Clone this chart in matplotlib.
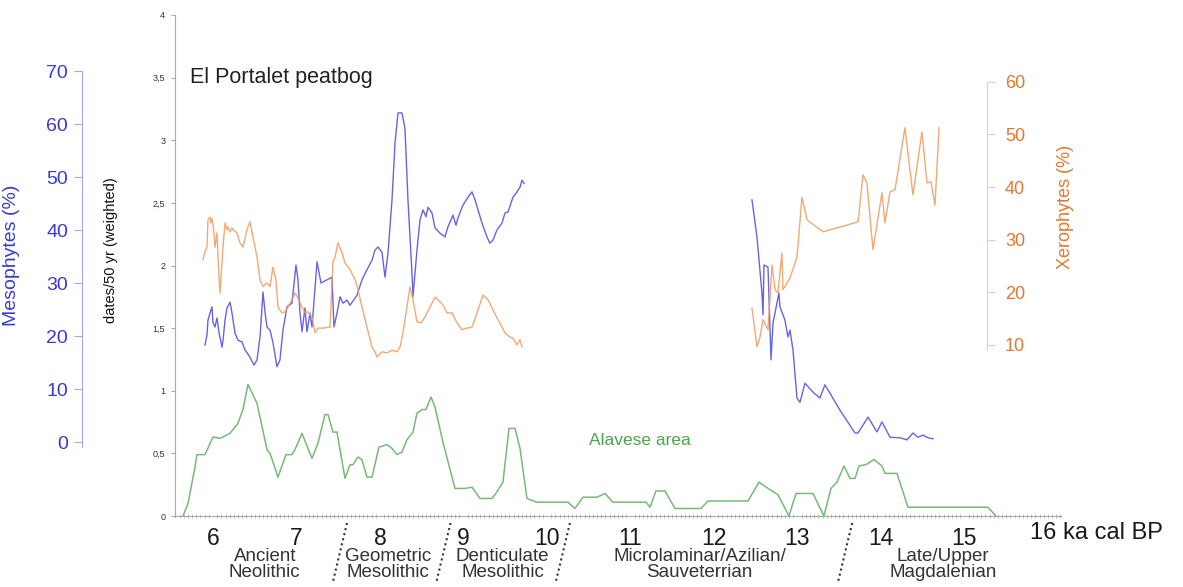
import matplotlib
matplotlib.use("Agg")
import matplotlib.pyplot as plt
from matplotlib.ticker import FixedLocator, MultipleLocator

plt.rcParams['font.family'] = ['Liberation Sans', 'DejaVu Sans']

# Alavese area dates/50 yr (weighted), x in ka cal BP
alav_ka = [5.641, 5.701, 5.784, 5.808, 5.904, 6.000, 6.084, 6.204, 6.299, 6.359,
           6.419, 6.527, 6.647, 6.683, 6.778, 6.874, 6.946, 6.982, 7.066, 7.186,
           7.257, 7.341, 7.377, 7.437, 7.485, 7.581, 7.641, 7.677, 7.737, 7.784,
           7.844, 7.904, 7.988, 8.084, 8.144, 8.204, 8.263, 8.323, 8.395, 8.443,
           8.503, 8.551, 8.611, 8.659, 8.754, 8.898, 9.018, 9.102, 9.198, 9.341,
           9.377, 9.473, 9.545, 9.617, 9.677, 9.760, 9.880, 10.251, 10.335, 10.431,
           10.599, 10.695, 10.790, 11.186, 11.234, 11.305, 11.413, 11.533, 11.844, 11.928,
           12.407, 12.539, 12.671, 12.766, 12.898, 12.982, 13.186, 13.317, 13.401, 13.473,
           13.557, 13.629, 13.689, 13.737, 13.820, 13.916, 14.012, 14.048, 14.192, 14.323,
           15.281, 15.377]
alav = [0.0, 0.10, 0.39, 0.49, 0.49, 0.63, 0.62, 0.66, 0.74, 0.85,
        1.05, 0.90, 0.53, 0.50, 0.31, 0.49, 0.49, 0.53, 0.66, 0.46,
        0.58, 0.81, 0.81, 0.67, 0.67, 0.30, 0.41, 0.41, 0.47, 0.45,
        0.31, 0.31, 0.55, 0.57, 0.54, 0.49, 0.51, 0.61, 0.67, 0.82,
        0.85, 0.85, 0.95, 0.87, 0.59, 0.22, 0.22, 0.23, 0.14, 0.14,
        0.17, 0.27, 0.70, 0.70, 0.54, 0.14, 0.11, 0.11, 0.06, 0.15,
        0.15, 0.18, 0.11, 0.11, 0.07, 0.20, 0.20, 0.06, 0.06, 0.12,
        0.12, 0.27, 0.21, 0.17, 0.0, 0.18, 0.18, 0.0, 0.22, 0.27,
        0.40, 0.30, 0.30, 0.40, 0.41, 0.45, 0.40, 0.34, 0.34, 0.07,
        0.07, 0.0]

# Mesophytes (%) - Holocene part and Late Glacial part
meso_ka_a = [5.904, 5.928, 5.940, 5.964, 5.988, 6.000, 6.024, 6.048, 6.072, 6.108,
             6.120, 6.144, 6.168, 6.204, 6.228, 6.263, 6.299, 6.347, 6.383, 6.443,
             6.491, 6.527, 6.563, 6.599, 6.623, 6.647, 6.683, 6.719, 6.766, 6.802,
             6.838, 6.886, 6.946, 6.994, 7.018, 7.042, 7.066, 7.102, 7.126, 7.162,
             7.186, 7.246, 7.293, 7.425, 7.449, 7.485, 7.521, 7.557, 7.605, 7.641,
             7.725, 7.784, 7.844, 7.904, 7.940, 7.976, 8.024, 8.060, 8.096, 8.144,
             8.180, 8.216, 8.263, 8.299, 8.335, 8.383, 8.395, 8.443, 8.479, 8.515,
             8.551, 8.575, 8.623, 8.659, 8.719, 8.778, 8.814, 8.874, 8.910, 8.934,
             8.994, 9.054, 9.102, 9.138, 9.222, 9.281, 9.317, 9.353, 9.401, 9.461,
             9.497, 9.533, 9.593, 9.641, 9.677, 9.701, 9.725]
meso_a = [18.3, 20.2, 23.0, 24.3, 25.5, 22.5, 21.7, 23.4, 20.6, 17.9,
          19.2, 23.0, 25.3, 26.4, 24.3, 20.6, 19.2, 18.9, 17.4, 16.0,
          14.5, 15.5, 19.8, 28.3, 24.5, 21.7, 21.1, 18.7, 14.2, 15.5,
          21.1, 25.5, 26.2, 33.4, 30.6, 24.3, 20.8, 25.3, 20.8, 24.3,
          21.7, 34.0, 30.0, 31.1, 21.7, 24.3, 27.4, 26.2, 26.8, 25.8,
          27.7, 30.6, 32.5, 34.3, 36.2, 36.8, 35.8, 31.1, 35.7, 45.7,
          56.4, 62.1, 62.1, 59.2, 45.7, 31.9, 27.4, 36.2, 41.9, 43.8,
          42.5, 44.3, 43.2, 40.4, 39.4, 38.7, 40.6, 42.8, 40.9, 42.3,
          44.7, 46.2, 47.2, 45.7, 41.3, 38.7, 37.5, 38.1, 40.0, 41.3,
          43.2, 43.4, 46.2, 47.2, 48.1, 49.4, 48.8]
meso_ka_b = [12.455, 12.515, 12.575, 12.587, 12.599, 12.647, 12.683, 12.707, 12.778, 12.790,
             12.850, 12.886, 12.910, 12.946, 12.994, 13.030, 13.090, 13.186, 13.269, 13.329,
             13.509, 13.689, 13.725, 13.844, 13.952, 14.012, 14.108, 14.228, 14.311, 14.383,
             14.443, 14.503, 14.563, 14.623]
meso_b = [45.7, 38.7, 28.0, 24.0, 33.4, 33.0, 15.5, 22.5, 28.1, 25.5,
          23.0, 19.8, 21.1, 17.4, 8.3, 7.5, 11.1, 9.4, 8.3, 10.8,
          6.0, 1.7, 1.7, 4.7, 1.9, 3.8, 0.9, 0.8, 0.4, 1.7,
          0.9, 1.3, 0.8, 0.6]

# Xerophytes (%)
xero_ka_a = [5.880, 5.904, 5.928, 5.940, 5.964, 5.976, 5.988, 6.012, 6.024, 6.048,
             6.060, 6.084, 6.108, 6.120, 6.144, 6.168, 6.180, 6.204, 6.228, 6.240,
             6.287, 6.323, 6.359, 6.407, 6.443, 6.479, 6.527, 6.563, 6.599, 6.647,
             6.683, 6.719, 6.754, 6.778, 6.826, 6.862, 6.898, 6.946, 6.982, 7.018,
             7.066, 7.102, 7.138, 7.186, 7.222, 7.257, 7.317, 7.401, 7.437, 7.461,
             7.497, 7.545, 7.581, 7.641, 7.701, 7.737, 7.784, 7.844, 7.904, 7.940,
             7.964, 8.024, 8.084, 8.144, 8.204, 8.240, 8.275, 8.323, 8.359, 8.395,
             8.443, 8.491, 8.539, 8.599, 8.659, 8.695, 8.754, 8.802, 8.862, 8.922,
             8.982, 9.042, 9.102, 9.162, 9.234, 9.293, 9.353, 9.413, 9.497, 9.557,
             9.593, 9.641, 9.677, 9.701]
xero_a = [26.2, 27.7, 28.6, 33.8, 34.3, 33.2, 34.1, 31.3, 28.6, 31.3,
          26.7, 19.9, 25.6, 28.6, 33.2, 31.9, 32.4, 31.5, 32.2, 31.9,
          31.3, 29.4, 28.6, 31.9, 33.4, 30.5, 26.7, 22.4, 21.1, 21.8,
          21.1, 24.8, 22.4, 17.2, 16.1, 16.3, 17.2, 18.6, 19.9, 18.9,
          17.2, 16.1, 16.3, 15.3, 12.3, 13.2, 13.2, 13.4, 25.8, 26.7,
          29.4, 27.5, 25.6, 24.3, 22.4, 20.5, 17.2, 13.4, 9.6, 8.7,
          7.7, 8.7, 8.5, 9.0, 8.7, 9.6, 12.3, 17.2, 21.0, 18.6,
          14.4, 14.2, 15.3, 17.2, 19.1, 18.6, 17.6, 16.1, 16.1, 14.2,
          12.9, 13.2, 13.4, 16.1, 19.5, 18.6, 16.7, 14.8, 12.3, 11.5,
          11.3, 10.0, 11.0, 9.6]
xero_ka_b = [12.455, 12.515, 12.551, 12.587, 12.647, 12.695, 12.731, 12.766, 12.814, 12.826,
             12.910, 12.994, 13.054, 13.114, 13.305, 13.509, 13.725, 13.784, 13.832, 13.904,
             14.012, 14.048, 14.108, 14.168, 14.287, 14.383, 14.491, 14.551, 14.599, 14.647,
             14.695]
xero_b = [17.0, 9.6, 11.5, 14.8, 12.9, 25.2, 20.5, 19.9, 27.5, 20.5,
          22.7, 26.7, 38.1, 33.8, 31.5, 32.4, 33.4, 42.3, 40.8, 28.1,
          38.9, 33.2, 39.1, 39.5, 51.3, 38.5, 50.5, 40.8, 41.0, 36.6,
          51.3]

# cultural periods
periods = ["Ancient\nNeolithic", "Geometric\nMesolithic", "Denticulate\nMesolithic",
           "Microlaminar/Azilian/\nSauveterrian", "Late/Upper\nMagdalenian"]
period_mid = [6.62, 8.10, 9.47, 11.83, 14.74]
period_bounds = [7.52, 8.76, 10.19, 13.57]

xticks = [6, 7, 8, 9, 10, 11, 12, 13, 14, 15]
yticks = [0, 0.5, 1, 1.5, 2, 2.5, 3, 3.5, 4]
meso_ticks = [0, 10, 20, 30, 40, 50, 60, 70]
xero_ticks = [10, 20, 30, 40, 50, 60]

blue = '#3a3ad2'
orange = '#e5772f'

fig = plt.figure(figsize=(11.83, 5.87), dpi=100)
ax = fig.add_axes([175 / 1183, 1 - 516 / 587, 886 / 1183, 501 / 587])
ax.set_xlim(5.545, 16.156)
ax.set_ylim(0, 4)

# main axis (dates)
ax.plot(alav_ka, alav, color='#5fae5f', lw=1.1, alpha=0.85)
for s in ['top', 'right']:
    ax.spines[s].set_visible(False)
ax.spines['left'].set_color('#aaaaaa')
ax.spines['bottom'].set_color('#aaaaaa')
ax.yaxis.set_major_locator(FixedLocator(yticks))
ax.set_yticklabels([('%g' % v).replace('.', ',') for v in yticks])
ax.tick_params(axis='y', labelsize=6.5, length=3, color='#aaaaaa', labelcolor='#333333', pad=4)
ax.xaxis.set_major_locator(FixedLocator(xticks))
ax.set_xticklabels([str(v) for v in xticks])
ax.xaxis.set_minor_locator(MultipleLocator(0.05))
ax.tick_params(axis='x', which='major', length=0, labelsize=16.5, pad=8, labelcolor='#1a1a1a')
ax.tick_params(axis='x', which='minor', length=3, width=0.6, direction='inout', color='#b5b5b5')
ax.text(16 - 0.22, -0.034, "16 ka cal BP", transform=ax.get_xaxis_transform(),
        ha='left', va='center', fontsize=17, color='#1a1a1a')
ax.set_ylabel("dates/50 yr (weighted)", fontsize=10.5, color='#111111')
ax.yaxis.set_label_coords((118 - 175) / 886, 0.531)

ax.text(0.017, 0.876, "El Portalet peatbog", transform=ax.transAxes,
        fontsize=15.5, color='#222222', va='center', ha='left')
ax.text(0.525, 0.150, "Alavese area", transform=ax.transAxes,
        fontsize=12.5, color='#4aa84a', va='center', ha='center')

# period labels and dotted dividers
tx = ax.get_xaxis_transform()
for name, xm in zip(periods, period_mid):
    ax.text(xm, -0.097, name, transform=tx, ha='center', va='center',
            fontsize=13.5, color='#333333', linespacing=0.95, clip_on=False)
for xb in period_bounds:
    ax.plot([xb + 0.085, xb - 0.085], [-0.014, -0.132], transform=tx, clip_on=False,
            color='#333333', lw=1.5, ls=(0, (1, 1.5)))

# mesophytes axis (left, outer)
axm = ax.twinx()
axm.set_position(ax.get_position())
axm.set_ylim(-13.96, 80.57)
axm.plot(meso_ka_a, meso_a, color='#4a4ae0', lw=1.0, alpha=0.85)
axm.plot(meso_ka_b, meso_b, color='#4a4ae0', lw=1.0, alpha=0.85)
axm.yaxis.set_ticks_position('left')
axm.yaxis.set_label_position('left')
axm.spines['left'].set_position(('axes', (82 - 175) / 886))
axm.spines['left'].set_visible(True)
axm.spines['left'].set_bounds(-1, 70)
axm.spines['left'].set_color('#a5a5ee')
for s in ['top', 'right', 'bottom']:
    axm.spines[s].set_visible(False)
axm.yaxis.set_major_locator(FixedLocator(meso_ticks))
axm.tick_params(axis='y', labelsize=14, length=6, color='#a5a5ee', labelcolor=blue, pad=4)
axm.set_ylabel("Mesophytes (%)", fontsize=14, color=blue)
axm.yaxis.set_label_coords((20 - 175) / 886, 0.521)

# xerophytes axis (right)
axx = ax.twinx()
axx.set_position(ax.get_position())
axx.set_ylim(-22.5, 72.7)
axx.plot(xero_ka_a, xero_a, color='#f09a5c', lw=1.0, alpha=0.85)
axx.plot(xero_ka_b, xero_b, color='#f09a5c', lw=1.0, alpha=0.85)
axx.spines['right'].set_position(('axes', (987 - 175) / 886))
axx.spines['right'].set_bounds(9, 60)
axx.spines['right'].set_color('#f5c9ab')
for s in ['top', 'left', 'bottom']:
    axx.spines[s].set_visible(False)
axx.yaxis.set_major_locator(FixedLocator(xero_ticks))
axx.tick_params(axis='y', labelsize=13, length=6, color='#f5c9ab', labelcolor=orange, pad=7)
axx.set_ylabel("Xerophytes (%)", fontsize=13, color=orange)
axx.yaxis.set_label_coords((1057 - 175) / 886, 0.617)

fig.savefig("out.png", dpi=100)
